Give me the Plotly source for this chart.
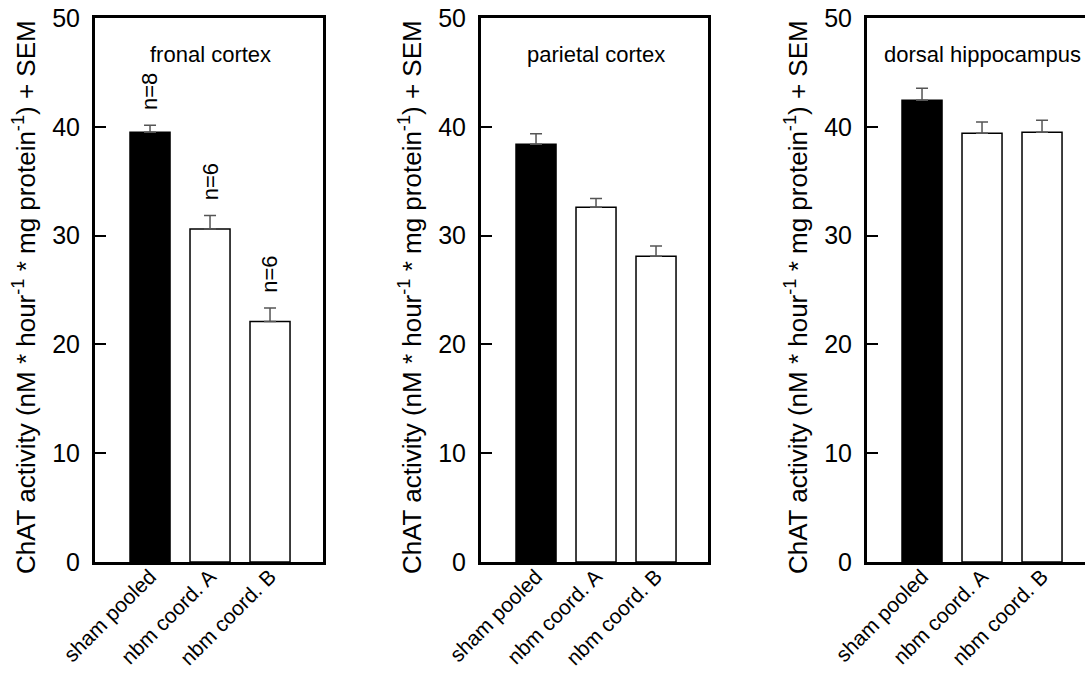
import plotly.graph_objects as go

categories = ["sham pooled", "nbm coord. A", "nbm coord. B"]
regions = ["fronal cortex", "parietal cortex", "dorsal hippocampus"]
frontal_mean = [39.5, 30.6, 22.1]
frontal_sem = [0.65, 1.25, 1.25]
parietal_mean = [38.4, 32.6, 28.1]
parietal_sem = [0.95, 0.8, 0.95]
hippo_mean = [42.45, 39.4, 39.5]
hippo_sem = [1.1, 1.05, 1.1]
frontal_n = ["n=8", "n=6", "n=6"]
y_ticks = [0, 10, 20, 30, 40, 50]
y_title = "ChAT activity (nM * hour<sup>-1</sup> * mg protein<sup>-1</sup>) + SEM"

means = [frontal_mean, parietal_mean, hippo_mean]
sems = [frontal_sem, parietal_sem, hippo_sem]

W, H = 1085, 675
FONT = "Arial, Liberation Sans, sans-serif"
panel_px = [(95, 323), (481, 708), (867, 1085)]
px_per_unit = 60.0
x0 = -0.917

fig = go.Figure()
layout = dict(
    template="none",
    width=W, height=H,
    margin=dict(l=0, r=0, t=18, b=H - 562, pad=0, autoexpand=False),
    paper_bgcolor="white", plot_bgcolor="white",
    showlegend=False,
    font=dict(family=FONT, color="black", size=20),
)
annotations = []
idx = list(range(len(categories)))
for p in range(3):
    sfx = "" if p == 0 else str(p + 1)
    xa = "x" + sfx
    ya = "y" + sfx
    fig.add_trace(go.Bar(
        x=idx, y=means[p], xaxis=xa, yaxis=ya,
        width=0.667,
        marker=dict(color=["black", "white", "white"], line=dict(color="black", width=1.5)),
        error_y=dict(type="data", symmetric=False, array=sems[p], arrayminus=[0, 0, 0],
                     color="#555555", thickness=1.5, width=6),
        hoverinfo="skip",
    ))
    l, r = panel_px[p]
    xrange = [x0, x0 + (r - l) / px_per_unit]
    layout["xaxis" + sfx] = dict(
        domain=[l / W, r / W], range=xrange, anchor=ya, automargin=False,
        tickmode="array", tickvals=idx, ticktext=categories, tickangle=-45,
        ticks="", showline=True, linewidth=3, linecolor="black", mirror=True,
        showgrid=False, zeroline=False, ticklabelstandoff=-9,
        tickfont=dict(size=21, family=FONT, color="black"),
    )
    layout["yaxis" + sfx] = dict(
        domain=[0, 1], range=[0, 50], anchor=xa, automargin=False,
        tickmode="array", tickvals=y_ticks, ticks="inside", ticklen=11, tickwidth=1.5,
        tickcolor="black", showline=True, linewidth=3, linecolor="black",
        mirror=(p < 2), showgrid=False, zeroline=False, ticklabeloverflow="allow",
        tickfont=dict(size=25, family=FONT, color="black"), ticklabelstandoff=7,
    )
    annotations.append(dict(
        text=regions[p], xref=xa, yref=ya, x=1, y=46.6, showarrow=False,
        font=dict(size=22, family=FONT, color="black"), xanchor="center", yanchor="middle",
    ))
    annotations.append(dict(
        text=y_title, xref="paper", yref="paper", x=(l - 71) / W, y=0.487,
        textangle=-90, showarrow=False, font=dict(size=26, family=FONT, color="black"),
        xanchor="center", yanchor="middle",
    ))

for i in idx:
    annotations.append(dict(
        text=frontal_n[i], xref="x", yref="y", x=i,
        y=frontal_mean[i] + frontal_sem[i] + 3.05, textangle=-90, showarrow=False,
        font=dict(size=22, family=FONT, color="black"), xanchor="center", yanchor="middle",
    ))

layout["annotations"] = annotations
fig.update_layout(**layout)
fig.write_html("out.html", config={"displayModeBar": False},
               post_script="document.body.style.margin='0px';")
